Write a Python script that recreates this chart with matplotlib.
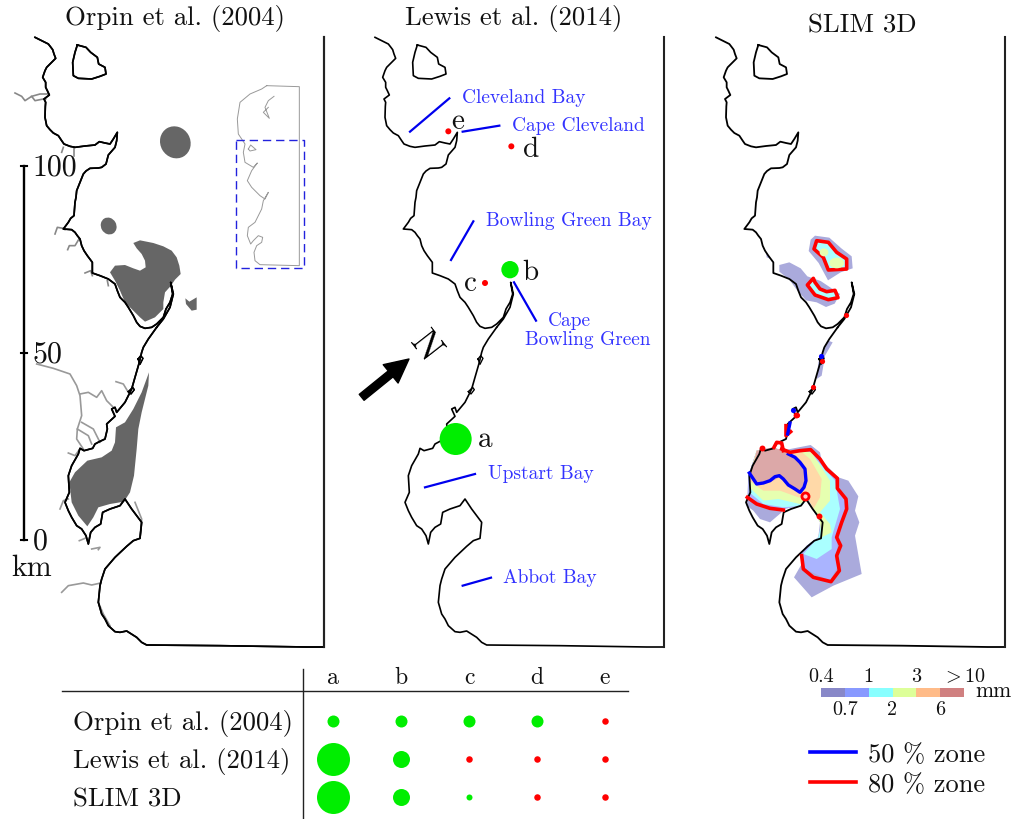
import numpy as np
import matplotlib
matplotlib.use('Agg')
import matplotlib.pyplot as plt
from matplotlib.colors import ListedColormap
from matplotlib.patches import Ellipse, Polygon

plt.rcParams['font.family'] = ['cmr10', 'DejaVu Serif']
plt.rcParams['mathtext.fontset'] = 'cm'
plt.rcParams['axes.unicode_minus'] = False

SOUTH = 930

coast_north = [(105,55),(125,65),(145,75),(152,84),(158,92),(162,105),(167,118),(150,135),(140,145),(135,155),(128,175),
               (137,190),(137,205),(142,215),(148,228),(132,240),(137,250),(136,262),(135,295),(140,320),(150,332),(160,342),
               (175,350),(185,365),(192,375),(210,382),(225,385),(255,381),(285,378),(298,368),(315,372),(330,375),(340,360),
               (352,340),(350,365),(345,385),(325,408),(318,435),(305,445),(295,447),(270,448),(258,456),(250,465),(240,490),
               (230,515),(228,535),(225,550),(222,590),(212,598),(205,610),(190,630),(215,632),(225,640),(232,650),
               (240,660),(245,680),(252,695),(262,710),(277,730),(277,762),(300,770),(325,780),(345,795),(352,815),(360,835),
               (375,850),(385,865),(400,890),(410,910),(420,922),(435,928),(455,925),(470,915),(490,895),(498,870),(510,850),
               (518,825),(512,790),(520,825),(510,865),(490,900),(470,925)]
coast_south = [(470,-5),(445,30),(430,55),(425,70),(418,100),(405,145),(395,180),(375,220),(350,250),(345,235),(335,240),
               (345,262),(320,285),(322,300),(315,330),(298,338),(285,345),(278,358),(252,365),(240,358),(235,375),(215,410),(205,440),
               (208,490),(195,520),(205,545),(215,565),(230,590),(245,600),(258,620),(265,645),(272,610),(285,595),(302,585),(308,550),(330,540),
               (360,530),(375,510),(385,525),(395,540),(425,580),(420,628),(400,635),(380,652),(345,685),(315,720),(305,750),(300,770),(295,820),
               (305,855),(315,870),(325,890),(345,908),(360,910),(380,906),(410,925),(425,940),(440,948),(660,950),(920,954),(972,954)]
coast_loops = [[(414,90),(422,80),(429,88),(420,106),(414,90)],[(385,188),(398,175),(403,182),(393,195),(385,188)]]
island = [(232,78),(258,85),(272,100),(292,115),(296,135),(315,145),(318,165),(300,172),(275,180),(235,178),
          (220,170),(218,130),(225,100),(232,78)]
frame_right = [(972,55),(972,1884)]

# Orpin et al. deposit patches
orpin_ovals = [(526,370,90,98),(326,621,46,52)]
orpin_big = [(400,672),(420,664),(460,672),(490,682),(515,695),(530,715),(538,740),(542,765),(525,782),(513,800),(495,820),(490,850),(490,870),
             (465,895),(435,908),(420,895),(400,875),(375,850),(360,815),(345,785),(330,760),(345,740),(375,738),(400,748),(420,755),
             (437,745),(435,725),(425,705),(410,688)]
orpin_small = [(556,838),(568,848),(590,835),(590,872),(575,875),(558,855)]
orpin_south = [(447,130),(445,170),(425,250),(415,300),(410,360),(402,440),(390,490),(372,518),(330,525),(295,535),
               (280,565),(262,592),(235,560),(215,520),(208,460),(225,430),(262,395),(305,385),(335,365),(345,340),
               (348,295),(375,280),(400,240),(425,190)]

rivers_north = [[(45,222),(65,232),(75,245),(95,232),(105,245),(130,240),(137,240)],
                [(95,232),(120,225),(145,225)],
                [(185,400),(190,385)],[(222,385),(222,410)],
                [(165,645),(172,625),(190,628),(195,632)],
                [(203,692),(208,680),(225,680),(237,660)],
                [(255,762),(272,755),(277,770)],[(325,800),(322,785)]]
rivers_south = [[(110,105),(160,118),(210,135),(230,170),(240,200),(245,260),(232,300),(230,330),(250,360)],
                [(240,195),(265,190),(290,205),(305,185),(320,215),(340,235)],
                [(245,280),(280,300),(300,340)],[(232,300),(265,320),(275,345)],
                [(348,158),(370,165),(385,190)],[(205,372),(225,380),(238,362)],
                [(180,540),(190,515),(205,510)],[(238,635),(255,628)],[(275,660),(300,655),(295,662)],
                [(185,790),(205,770),(250,762),(275,768),(302,762)],
                [(295,820),(310,855),(330,890)],[(405,520),(425,570),(420,625)]]

inset_outline = [(800,200),(898,203),(898,740),(780,737),(765,725),(762,700),(770,680),(785,670),(788,655),(775,650),
                 (760,665),(752,675),(742,650),(745,625),(765,610),(785,570),(790,545),(805,520),(795,540),(780,530),
                 (755,505),(742,485),(755,455),(772,432),(760,445),(735,430),(730,400),(735,375),(715,345),(712,300),
                 (720,250),(750,225),(785,210),(800,200)]
inset_island = [(745,390),(752,378),(768,392),(750,396),(745,390)]
inset_river = [(822,232),(805,245),(795,265),(808,298),(790,280),(805,265)]
inset_box = [(707,362),(911,362),(911,747),(707,747),(707,362)]

# Lewis et al. annotations
site_names = ['a','b','c','d','e']
site_xy = [(347,1260),(510,752),(435,792),(514,382),(325,337)]
site_diam = [96,52,18,18,18]
site_color = ['#00ee00','#00ee00','#ff0000','#ff0000','#ff0000']
site_label_xy = [(435,1258),(570,757),(392,790),(572,388),(352,305)]
place_names = ['Cleveland Bay','Cape Cleveland','Bowling Green Bay','Bowling Green','Upstart Bay','Abbot Bay']
place_xy = [(366,234),(515,318),(438,603),(556,960),(443,1362),(490,1674)]
place_lines = [[(210,338),(328,238)],[(368,338),(478,320)],[(333,723),(400,607)],[(522,790),(588,905)],
               [(255,1405),(405,1365)],[(368,1700),(453,1676)]]

level_colors = ['#aaaadc','#aab4ff','#aaffff','#e6ffb0','#ffd9a8','#dca8a8']
slim_levels = [
    [(272,108),(300,130),(305,155),(355,205),(385,215),(415,262),(405,305),(418,340),(405,380),(425,495),(340,530),
     (275,565),(222,505),(245,465),(240,435),(260,410),(295,385),(300,340),(260,270),(245,290),(190,300),(185,310),
     (150,340),(120,330),(100,305),(80,290),(82,265),(85,200),(110,125),(160,115),(185,125)],
    [(215,130),(275,125),(350,210),(380,295),(350,385),(355,470),(330,515),(255,480),(240,435),(260,410),(295,385),
     (305,340),(260,270),(245,290),(190,300),(150,295),(85,265),(85,200),(110,125)],
    [(230,125),(270,130),(345,215),(360,300),(335,385),(335,420),(290,450),(250,435),(295,385),(305,340),(265,270),
     (245,290),(190,295),(130,285),(88,250),(88,200),(110,125)],
    [(240,125),(275,130),(330,215),(330,275),(300,310),(330,345),(335,370),(305,385),(300,340),(265,270),(240,285),
     (175,270),(130,275),(88,235),(88,200),(110,125)],
    [(240,125),(270,150),(305,210),(300,265),(280,300),(262,265),(235,265),(180,245),(130,245),(88,215),(88,200),
     (110,125)],
    [(110,125),(160,115),(215,135),(255,180),(258,215),(245,248),(200,225),(178,205),(150,220),(110,228),(88,195),
     (105,150)],
]
slim_50 = [(88,192),(100,210),(110,225),(130,222),(150,215),(165,203),(178,200),(190,210),(205,228),(225,240),(240,250),(252,235),(258,215),(255,180),(240,160),(225,145),(205,135)]
slim_80_a = [(185,120),(210,130),(240,125),(272,122),(300,150),(320,180),(352,208),(352,238),(378,270),
             (380,300),(365,340),(350,385),(362,410),(350,440),(358,485),(333,518),(280,505),(250,480),(245,440)]
slim_80_b = [(82,265),(110,285),(150,298),(190,303)]
slim_80_c = [(162,115),(170,100),(185,102),(190,125)]
slim_80_ring = [(255,262)]
slim_80_spot = [(297,320),(125,118),(228,18)]
slim_50_bit = [(210,42),(203,75)]
slim_80_bit = [(198,50),(198,80),(212,68)]

north_purple = [[(238,198),(268,190),(302,208),(322,232),(362,246),(420,285),(404,314),(378,324),(350,310),(318,304),
                 (290,272),(268,242),(238,218)],
                [(345,110),(388,116),(424,148),(455,172),(458,208),(422,220),(384,244),(356,192),(326,156),(332,122)],
                [(198,160),(212,180),(200,175)],
                [(385,425),(398,430),(375,470),(365,530),(350,540),(355,490)]]
north_red = [[(340,238),(322,258),(345,288),(385,302),(414,296),(405,274),(380,278),(360,270),(345,250)],
             [(350,125),(385,130),(410,160),(440,180),(440,210),(385,213),(370,175),(342,150)]]
north_yellow = [(372,160,26,24),(410,192,44,32)]
north_red_spots = [(438,348),(365,485),(338,565),(290,648)]
north_blue_spots = [(280,632),(362,472)]

# colour bar
bar_colors = ['#8888c8','#8899ff','#88ffff','#ddff99','#ffbb88','#d08080']
bar_labels = ['0.4','0.7','1','2','3','6',r'$>$10']

# table
table_rows = ['Orpin et al. (2004)','Lewis et al. (2014)','SLIM 3D']
table_cols = ['a','b','c','d','e']
table_diam = [[12,12,12,12,6.5],[33,17,6.5,6.5,6.5],[33,17,6,6.5,6.5]]
table_is_green = [[1,1,1,1,0],[1,1,0,0,0],[1,1,1,0,0]]

zone_names = ['50 % zone','80 % zone']
zone_colors = ['#0000ff','#ff0000']
scale_ticks = [0,50,100]


def px_axes(fig, x0, y0, x1, y1):
    # rectangle given in picture pixels, y going down
    ax = fig.add_axes([x0/1018, 1-y1/820, (x1-x0)/1018, (y1-y0)/820])
    ax.axis('off')
    return ax


def xy(points, dx=0, dy=0):
    p = np.array(points, dtype=float)
    return p[:, 0]+dx, p[:, 1]+dy


def map_axes(fig, x0):
    ax = px_axes(fig, x0, 20, x0+337, 660)
    ax.set_xlim(0, 1011)
    ax.set_ylim(1920, 0)
    return ax


def draw_coast(ax, lw=1.2):
    ax.plot(*xy(coast_north), color='k', lw=lw, clip_on=False, zorder=5)
    ax.plot(*xy(coast_south, 0, SOUTH), color='k', lw=lw, clip_on=False, zorder=5)
    for loop in coast_loops:
        ax.plot(*xy(loop, 0, SOUTH), color='k', lw=lw*0.8, clip_on=False, zorder=5)
    ax.plot(*xy(island), color='k', lw=lw, clip_on=False, zorder=5)
    ax.plot(*xy(frame_right), color='#222222', lw=1.5, clip_on=False, zorder=5)


def draw_orpin(ax):
    gray = '#666666'
    for cx, cy, w, h in orpin_ovals:
        ax.add_patch(Ellipse((cx, cy), w, h, angle=-30, color=gray, lw=0, clip_on=False))
    for pts, dy in ((orpin_big, 0), (orpin_small, 0), (orpin_south, SOUTH)):
        x, y = xy(pts, 0, dy)
        ax.add_patch(Polygon(np.c_[x, y], closed=True, color=gray, lw=0, clip_on=False))
    for r in rivers_north:
        ax.plot(*xy(r), color='#888888', lw=1.2, clip_on=False)
    for r in rivers_south:
        ax.plot(*xy(r, 0, SOUTH), color='#999999', lw=1.2, clip_on=False)
    ax.plot(*xy(inset_outline), color='#999999', lw=0.7)
    ax.plot(*xy(inset_island), color='#999999', lw=0.7)
    ax.plot(*xy(inset_river), color='#999999', lw=0.7)
    ax.plot(*xy(inset_box), color='#2222dd', lw=1.0, ls=(0, (6, 3.5)))


def draw_scale(ax):
    y_of = {0: 1563, 50: 1002, 100: 441}
    ax.plot([71, 71], [y_of[100], y_of[0]], color='k', lw=1.7, clip_on=False)
    for t in scale_ticks:
        ax.plot([62, 80], [y_of[t], y_of[t]], color='k', lw=1.5, clip_on=False)
        ax.text(98, y_of[t]+3, str(t), fontsize=21.5, va='center', ha='left', color='#111111')
    ax.text(95, 1646, 'km', fontsize=21.5, va='center', ha='center', color='#111111')


def draw_lewis(ax):
    for (x, y), d, c in zip(site_xy, site_diam, site_color):
        ax.add_patch(Ellipse((x, y), d, d, color=c, lw=0, zorder=6, clip_on=False))
    for name, (x, y) in zip(site_names, site_label_xy):
        ax.text(x, y, name, fontsize=21, ha='center', va='center', color='#111111')
    for line in place_lines:
        ax.plot(*xy(line), color='#0000ee', lw=1.6, clip_on=False)
    for name, (x, y) in zip(place_names, place_xy):
        ax.text(x, y, name, fontsize=14, color='#3333ff', ha='left', va='center')
    ax.text(688, 903, 'Cape', fontsize=14, color='#3333ff', ha='center', va='center')
    ax.annotate('', xy=(207, 1020), xytext=(65, 1135),
                arrowprops=dict(facecolor='k', edgecolor='k', width=5.5, headwidth=17, headlength=17, shrink=0))
    ax.text(256, 982, 'N', fontsize=27, rotation=-52, ha='center', va='center', color='k')


def draw_slim(ax):
    for pts, c in zip(slim_levels, level_colors):
        x, y = xy(pts, 117, 1170)
        ax.add_patch(Polygon(np.c_[x, y], closed=True, color=c, lw=0, clip_on=False))
    for pts in north_purple:
        x, y = xy(pts, 57, 540)
        ax.add_patch(Polygon(np.c_[x, y], closed=True, color=level_colors[0], lw=0, clip_on=False))
    for pts in north_red:
        x, y = xy(pts, 57, 540)
        ax.add_patch(Polygon(np.c_[x, y], closed=True, facecolor=level_colors[2], edgecolor='#ff0000',
                             lw=2.6, joinstyle='round', zorder=6, clip_on=False))
    for cx, cy, w, h in north_yellow:
        ax.add_patch(Ellipse((cx+57, cy+540), w, h, color=level_colors[3], lw=0, zorder=7, clip_on=False))
    draw_coast(ax, lw=1.3)
    ax.plot(*xy(slim_50, 117, 1170), color='#0000ff', lw=2.4, zorder=7, clip_on=False)
    ax.plot(*xy(slim_50_bit, 117, 1170), color='#0000ff', lw=2.4, zorder=8, clip_on=False)
    for line in (slim_80_a, slim_80_b, slim_80_c, slim_80_bit):
        ax.plot(*xy(line, 117, 1170), color='#ff0000', lw=2.6, zorder=7, clip_on=False)
    x, y = xy(slim_80_ring, 117, 1170)
    ax.scatter(x, y, s=26, facecolor='#ffcccc', edgecolor='#ff0000', lw=2, zorder=8, clip_on=False)
    ax.scatter(*xy(slim_80_spot, 117, 1170), s=18, color='#ff0000', lw=0, zorder=8, clip_on=False)
    ax.scatter(*xy(north_red_spots, 57, 540), s=14, color='#ff0000', lw=0, zorder=8, clip_on=False)
    ax.scatter(*xy(north_blue_spots, 57, 540), s=14, color='#0000ff', lw=0, zorder=8, clip_on=False)


def draw_table(fig):
    # one unit is one column / row of the table
    ax = px_axes(fig, 50, 665, 640, 820)
    ax.set_xlim((50-333)/68, (640-333)/68)
    ax.set_ylim((820-722)/38, (665-722)/38)
    ax.plot([(62-333)/68, (628-333)/68], [(692-722)/38]*2, color='#222222', lw=1.0, clip_on=False)
    ax.plot([(303-333)/68]*2, [(670-722)/38, (820-722)/38], color='#222222', lw=1.0, clip_on=False)
    for j, name in enumerate(table_cols):
        ax.text(j, (678-722)/38, name, fontsize=17, ha='center', va='center', color='#111111')
    for i, name in enumerate(table_rows):
        ax.text((73-333)/68, i+0.04, name, fontsize=19.3, ha='left', va='center', color='#111111')
        for j in range(len(table_cols)):
            d = table_diam[i][j]*0.72
            c = '#00ee00' if table_is_green[i][j] else '#ff0000'
            ax.scatter(j, i, s=d*d, color=c, lw=0, zorder=3, clip_on=False)


def draw_colorbar(fig):
    ax = px_axes(fig, 821, 689, 964, 698)
    cmap = ListedColormap(bar_colors)
    vals = np.arange(len(bar_colors)).reshape(1, -1)
    ax.pcolormesh(np.arange(len(bar_colors)+1), [0, 1], vals, cmap=cmap)
    ax.set_xlim(0, len(bar_colors))
    ax.set_ylim(0, 1)
    for i, lab in enumerate(bar_labels):
        y = 2.3 if i % 2 == 0 else -1.3
        ax.text(i, y, lab, fontsize=14.5, ha='center', va='center', color='#111111', clip_on=False)
    ax.text(7.25, 0.8, 'mm', fontsize=15.5, ha='center', va='center', color='#111111', clip_on=False)


def draw_zones(fig):
    ax = px_axes(fig, 800, 735, 1000, 800)
    ax.set_xlim(800, 1000)
    ax.set_ylim(800, 735)
    for name, c, y in zip(zone_names, zone_colors, [753, 783]):
        ax.plot([810, 856], [y, y], color=c, lw=2.6)
        ax.text(868, y+2, name, fontsize=19, ha='left', va='center', color='#111111', clip_on=False)


fig = plt.figure(figsize=(10.18, 8.2), dpi=100)

ax1 = map_axes(fig, 0)
ax2 = map_axes(fig, 340)
ax3 = map_axes(fig, 681)
draw_coast(ax1)
draw_orpin(ax1)
draw_coast(ax1)
draw_scale(ax1)
draw_coast(ax2)
draw_lewis(ax2)
draw_slim(ax3)

ax1.text(525, -3, 'Orpin et al. (2004)', fontsize=19.3, ha='center', va='center', color='#111111', clip_on=False)
ax2.text(522, -3, 'Lewis et al. (2014)', fontsize=19.3, ha='center', va='center', color='#111111', clip_on=False)
ax3.text(543, 18, 'SLIM 3D', fontsize=19.3, ha='center', va='center', color='#111111', clip_on=False)

draw_table(fig)
draw_colorbar(fig)
draw_zones(fig)

plt.savefig('out.png', dpi=100)
